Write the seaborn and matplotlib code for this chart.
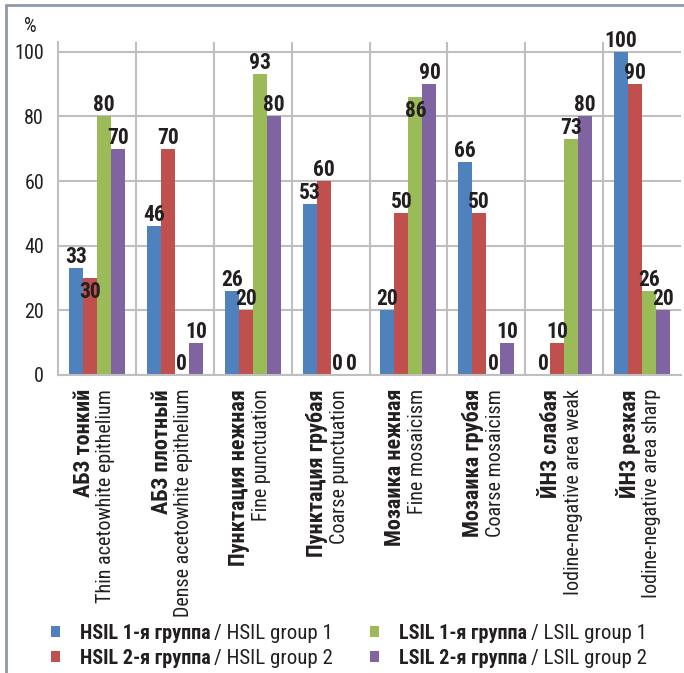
import matplotlib
matplotlib.use('Agg')
import matplotlib.pyplot as plt
import seaborn as sns
import pandas as pd
from matplotlib import font_manager
from matplotlib.lines import Line2D
from matplotlib.patches import Patch

# ---------------- data ----------------
categories_ru = ['АБЗ тонкий', 'АБЗ плотный', 'Пунктация нежная', 'Пунктация грубая',
                 'Мозаика нежная', 'Мозаика грубая', 'ЙНЗ слабая', 'ЙНЗ резкая']
categories_en = ['Thin acetowhite epithelium', 'Dense acetowhite epithelium',
                 'Fine punctuation', 'Coarse punctuation', 'Fine mosaicism',
                 'Coarse mosaicism', 'Iodine-negative area weak', 'Iodine-negative area sharp']
groups_ru = ['HSIL 1-я группа', 'HSIL 2-я группа', 'LSIL 1-я группа', 'LSIL 2-я группа']
groups_en = ['HSIL group 1', 'HSIL group 2', 'LSIL group 1', 'LSIL group 2']
hsil1 = [33, 46, 26, 53, 20, 66, 0, 100]
hsil2 = [30, 70, 20, 60, 50, 50, 10, 90]
lsil1 = [80, 0, 93, 0, 86, 0, 73, 26]
lsil2 = [70, 10, 80, 0, 90, 10, 80, 20]
yticks = [0, 20, 40, 60, 80, 100]
colors = ['#4F81BD', '#C0504D', '#9BBB59', '#8064A2']
series = [hsil1, hsil2, lsil1, lsil2]

# ---------------- fonts ----------------
sns.set_theme(style='white')
avail = {f.name for f in font_manager.fontManager.ttflist}
narrow = next((f for f in ['Roboto Condensed', 'Liberation Sans Narrow', 'Arial Narrow']
               if f in avail), 'Liberation Sans')
plt.rcParams['font.family'] = [narrow, 'DejaVu Sans']

GRID = '#BFBFBF'
TXT = '#231F20'

rows = []
for g, vals in zip(groups_ru, series):
    for c, v in zip(categories_ru, vals):
        rows.append({'category': c, 'group': g, 'value': v})
df = pd.DataFrame(rows)

fig = plt.figure(figsize=(6.84, 6.73), dpi=100)
ax = fig.add_axes([58 / 684, 1 - 375 / 673, (681 - 58) / 684, (375 - 42) / 673])

sns.barplot(data=df, x='category', y='value', hue='group', order=categories_ru,
            hue_order=groups_ru, palette=colors, saturation=1, width=0.72, gap=0,
            linewidth=0, errorbar=None, legend=False, ax=ax)

ax.set_xlim(-0.5, len(categories_ru) - 0.5)
ax.set_ylim(0, 103)
ax.set_yticks(yticks)
ax.set_yticklabels([str(t) for t in yticks], fontsize=14.5, color=TXT)
ax.set_xlabel('')
ax.set_ylabel('')
ax.set_xticks(range(len(categories_ru)))
ax.set_xticklabels([''] * len(categories_ru))
ax.tick_params(axis='x', which='major', length=0)
ax.set_xticks([i + 0.5 for i in range(len(categories_ru) - 1)], minor=True)
ax.tick_params(axis='x', which='minor', length=7, width=1.5, color=GRID, direction='out')
ax.tick_params(axis='y', length=6, width=1.5, color=GRID, pad=4)
ax.grid(axis='y', color=GRID, linewidth=1.5)
ax.grid(axis='x', which='minor', color=GRID, linewidth=1.5)
ax.set_axisbelow(True)
for s in ['top', 'right']:
    ax.spines[s].set_visible(False)
for s in ['left', 'bottom']:
    ax.spines[s].set_color(GRID)
    ax.spines[s].set_linewidth(1.5)

# value labels
for h, (cont, vals) in enumerate(zip(ax.containers, series)):
    for i, (bar, v) in enumerate(zip(cont.patches, vals)):
        x = bar.get_x() + bar.get_width() / 2
        shift = False
        for j in (h - 1, h + 1):
            if 0 <= j < len(series):
                d = series[j][i] - v
                if 0 < d < 5:
                    shift = True
        if shift:
            ax.annotate(str(v), (x, v), xytext=(0, -2), textcoords='offset points',
                        ha='center', va='top', fontsize=15.5, fontweight='bold', color=TXT,
                        annotation_clip=False)
        else:
            ax.annotate(str(v), (x, v), xytext=(0, 0), textcoords='offset points',
                        ha='center', va='bottom', fontsize=15.5, fontweight='bold', color=TXT,
                        annotation_clip=False)

# category labels (two lines, bold RU + regular EN)
for i, (ru, en) in enumerate(zip(categories_ru, categories_en)):
    ax.annotate(ru, (i, 0), xycoords=('data', 'axes fraction'), xytext=(-9.5, -10),
                textcoords='offset points', rotation=90, ha='center', va='top',
                fontsize=16, fontweight='bold', color=TXT)
    ax.annotate(en, (i, 0), xycoords=('data', 'axes fraction'), xytext=(6.5, -10),
                textcoords='offset points', rotation=90, ha='center', va='top',
                fontsize=14.5, color=TXT)

fig.text(30 / 684, 1 - 26 / 673, '%', ha='center', va='center', fontsize=14.5, color=TXT)

# legend: two columns, bold RU part from the legend, regular EN part appended
handles = [Patch(facecolor=c, edgecolor='none') for c in colors]
legends = []
for cols, x0 in (([0, 1], 51), ([2, 3], 370)):
    lg = fig.legend([handles[k] for k in cols], [groups_ru[k] for k in cols],
                    loc='upper left', bbox_to_anchor=(x0 / 684, 1 - 624 / 673), ncol=1,
                    frameon=False, borderpad=0, borderaxespad=0, handlelength=0.47,
                    handleheight=0.47, handletextpad=0.95, labelspacing=0.3,
                    prop={'family': [narrow, 'DejaVu Sans'], 'size': 14.5,
                          'weight': 'bold'})
    for t in lg.get_texts():
        t.set_color(TXT)
    legends.append((lg, cols))
fig.canvas.draw()
r = fig.canvas.get_renderer()
inv = fig.transFigure.inverted()
for lg, cols in legends:
    for t, k in zip(lg.get_texts(), cols):
        bb = t.get_window_extent(r)
        x1, y0 = inv.transform((bb.x1 + 4, bb.y0))
        fig.text(x1, y0, '/ ' + groups_en[k], ha='left', va='bottom', fontsize=15,
                 color=TXT)

# figure frame (left and top edges)
fig.add_artist(Line2D([6 / 684, 6 / 684], [0, 1 - 5 / 673], transform=fig.transFigure,
                      color='#8E9BA6', linewidth=2))
fig.add_artist(Line2D([6 / 684, 1], [1 - 5 / 673, 1 - 5 / 673], transform=fig.transFigure,
                      color='#8E9BA6', linewidth=2))

fig.savefig('out.png', dpi=100)
